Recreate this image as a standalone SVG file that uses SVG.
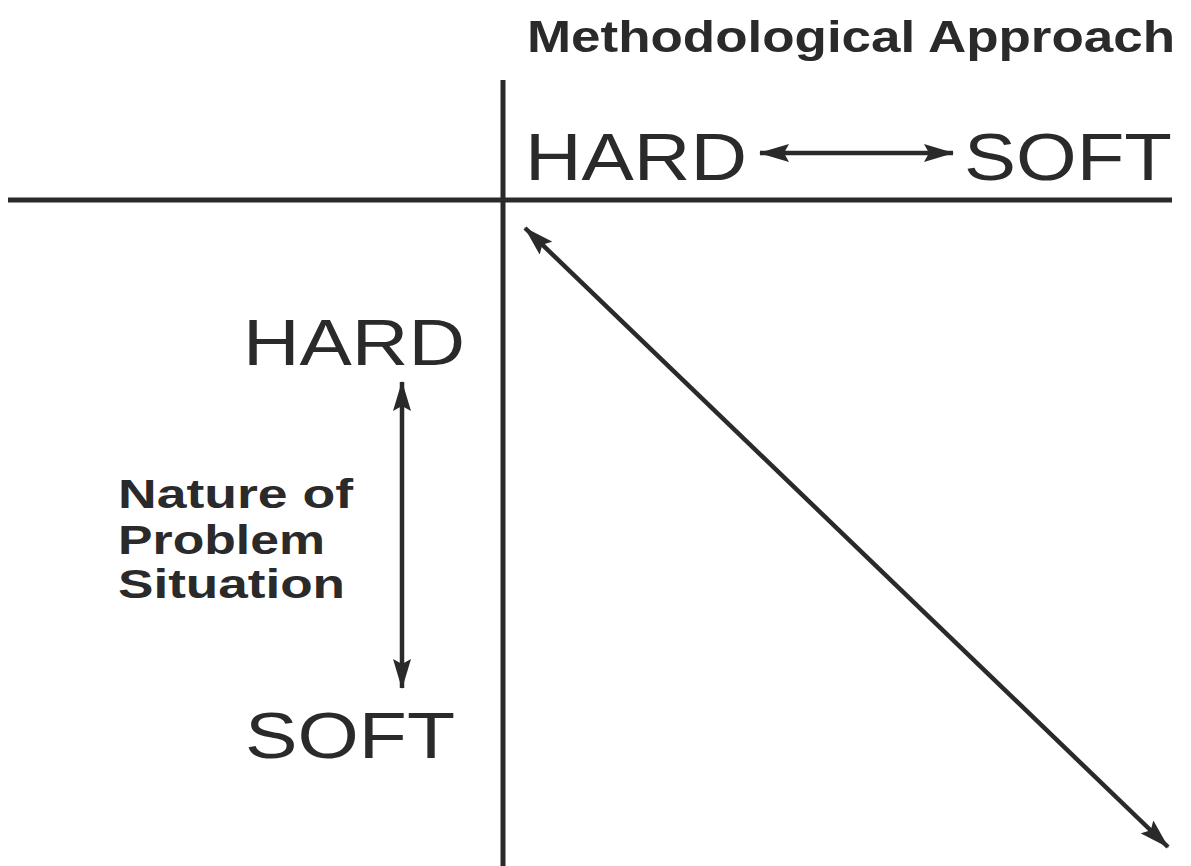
<svg xmlns="http://www.w3.org/2000/svg" width="1191" height="866" viewBox="0 0 1191 866">
<style>
.lbl{font-family:"Liberation Sans",Arial,Helvetica,sans-serif;fill:#2a2a2a;}
.big{font-size:64px;}
.top{font-size:66px;}
.bold{font-weight:bold;font-size:40px;}
.title{font-weight:bold;font-size:45px;}
.axis{stroke:#2a2a2a;stroke-width:5;fill:none;}
.arr{stroke:#2a2a2a;stroke-width:4.5;fill:none;}
</style>
<defs>
<marker id="ah" viewBox="0 0 30 18" refX="29" refY="9" markerWidth="30" markerHeight="18" markerUnits="userSpaceOnUse" orient="auto-start-reverse">
<path d="M0,0 L30,9 L0,18 L5,9 Z" fill="#2a2a2a"/>
</marker>
</defs>
<rect width="1191" height="866" fill="#ffffff"/>
<g id="axes">
<line class="axis" x1="8" y1="200" x2="1172" y2="200"/>
<line class="axis" x1="503" y1="80" x2="503" y2="866"/>
</g>
<g id="title"><text class="lbl title" x="527" y="52" textLength="648" lengthAdjust="spacingAndGlyphs">Methodological Approach</text></g>
<g id="top-hard"><text class="lbl top" x="525" y="180" textLength="222" lengthAdjust="spacingAndGlyphs">HARD</text></g>
<g id="top-soft"><text class="lbl top" x="964" y="180" textLength="208" lengthAdjust="spacingAndGlyphs">SOFT</text></g>
<g id="left-hard"><text class="lbl big" x="243" y="365" textLength="222" lengthAdjust="spacingAndGlyphs">HARD</text></g>
<g id="left-soft"><text class="lbl big" x="245" y="758" textLength="210" lengthAdjust="spacingAndGlyphs">SOFT</text></g>
<g id="nature">
<text class="lbl bold" x="118" y="508" textLength="235" lengthAdjust="spacingAndGlyphs">Nature of</text>
<text class="lbl bold" x="118" y="554" textLength="207" lengthAdjust="spacingAndGlyphs">Problem</text>
<text class="lbl bold" x="118" y="598" textLength="227" lengthAdjust="spacingAndGlyphs">Situation</text>
</g>
<g id="connectors">
<line class="arr" x1="760" y1="153" x2="953" y2="153" marker-start="url(#ah)" marker-end="url(#ah)"/>
<line class="arr" x1="402" y1="382" x2="402" y2="688" marker-start="url(#ah)" marker-end="url(#ah)"/>
<line class="arr" x1="525" y1="228" x2="1168" y2="847" marker-start="url(#ah)" marker-end="url(#ah)"/>
</g>
</svg>
